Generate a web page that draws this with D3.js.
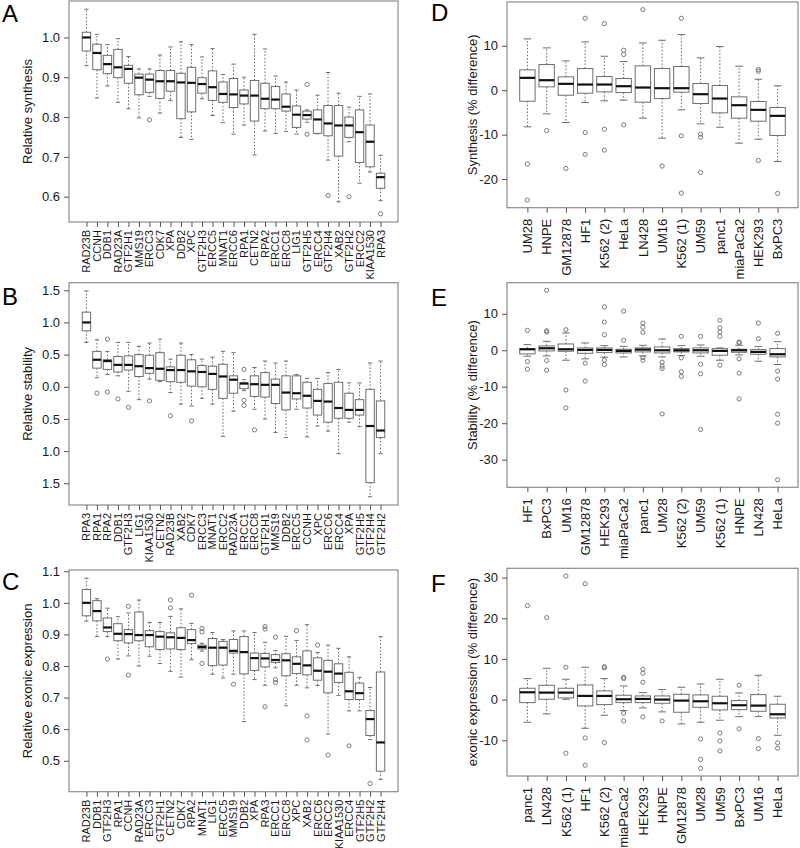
<!DOCTYPE html>
<html>
<head>
<meta charset="utf-8">
<script src="https://cdn.jsdelivr.net/npm/d3@7"></script>
<style>
  html, body { margin: 0; padding: 0; background: #fff; }
  svg { display: block; font-family: "Liberation Sans", Arial, Helvetica, sans-serif; }
</style>
</head>
<body>
<svg id="chart" width="800" height="848"></svg>
<script>
// ---------------- Panel A: Relative synthesis ----------------
const aCats = ["RAD23B","CCNH","DDB1","RAD23A","GTF2H1","MMS19","ERCC3","CDK7","XPA","DDB2","XPC","GTF2H3","ERCC5","MNAT1","ERCC6","RPA1","CETN2","RPA2","ERCC1","ERCC8","LIG1","GTF2H5","ERCC4","GTF2H4","XAB2","GTF2H2","ERCC2","KIAA1530","RPA3"];
const aHigh = [1.071,1.008,0.982,0.997,0.952,0.921,0.921,0.956,0.976,0.989,0.982,0.951,0.972,0.907,0.933,0.900,1.008,0.971,0.903,0.888,0.868,0.818,0.855,0.912,0.860,0.825,0.852,0.858,0.704];
const aQ3   = [1.013,0.983,0.955,0.970,0.930,0.908,0.908,0.917,0.917,0.910,0.925,0.899,0.916,0.888,0.897,0.868,0.892,0.885,0.877,0.858,0.828,0.815,0.818,0.829,0.829,0.800,0.818,0.780,0.659];
const aMed  = [1.000,0.961,0.933,0.925,0.921,0.899,0.894,0.890,0.890,0.887,0.886,0.883,0.875,0.858,0.857,0.854,0.854,0.846,0.844,0.826,0.806,0.805,0.794,0.784,0.779,0.779,0.762,0.738,0.649];
const aQ1   = [0.966,0.919,0.909,0.899,0.885,0.856,0.862,0.847,0.865,0.796,0.813,0.860,0.842,0.837,0.824,0.833,0.790,0.821,0.821,0.815,0.774,0.795,0.759,0.753,0.702,0.749,0.686,0.675,0.621];
const aLow  = [0.929,0.848,0.878,0.837,0.821,0.798,0.852,0.810,0.842,0.749,0.744,0.846,0.804,0.786,0.757,0.780,0.705,0.765,0.759,0.764,0.757,0.787,0.758,0.692,0.587,0.738,0.634,0.662,0.590];
const aOut  = [[],[],[],[],[],[],[0.793],[],[],[],[],[],[],[],[],[],[],[],[],[],[],[0.882,0.757],[],[0.603],[],[0.600],[],[],[0.557]];
const aTicks = [0.6,0.7,0.8,0.9,1.0];

// ---------------- Panel B: Relative stability ----------------
const bCats = ["RPA3","RPA1","RPA2","DDB1","GTF2H3","LIG1","KIAA1530","CETN2","RAD23B","XAB2","CDK7","ERCC3","MNAT1","ERCC2","RAD23A","ERCC1","ERCC8","GTF2H1","MMS19","DDB2","ERCC5","CCNH","XPC","ERCC6","ERCC4","XPA","GTF2H5","GTF2H4","GTF2H2"];
const bHigh = [1.49,0.73,0.55,0.69,0.69,0.63,0.68,0.74,0.43,0.68,0.50,0.43,0.46,0.55,0.53,0.11,0.30,0.40,0.37,0.40,0.19,0.13,0.13,0.22,0.27,0.06,0.06,0.37,0.40];
const bQ3   = [1.16,0.55,0.42,0.47,0.48,0.50,0.49,0.53,0.31,0.49,0.42,0.33,0.32,0.35,0.17,0.06,0.17,0.22,0.12,0.17,0.17,0.07,-0.04,0.05,0.07,-0.10,-0.20,-0.04,-0.22];
const bMed  = [1.00,0.42,0.40,0.34,0.34,0.32,0.29,0.28,0.26,0.26,0.24,0.23,0.20,0.16,0.11,0.05,0.04,0.03,0.03,-0.09,-0.10,-0.14,-0.22,-0.23,-0.33,-0.36,-0.36,-0.61,-0.68];
const bQ1   = [0.87,0.29,0.27,0.23,0.26,0.16,0.21,0.10,0.08,0.07,0.01,0.00,-0.04,-0.18,-0.10,-0.03,-0.15,-0.16,-0.26,-0.36,-0.19,-0.33,-0.44,-0.55,-0.49,-0.49,-0.44,-1.49,-0.79];
const bLow  = [0.69,0.14,0.19,0.17,-0.07,-0.20,0.12,0.08,-0.09,-0.27,-0.30,-0.18,-0.27,-0.77,-0.38,-0.06,-0.35,-0.50,-0.71,-0.79,-0.35,-0.78,-0.61,-0.69,-1.04,-0.55,-0.62,-1.71,-1.04];
const bOut  = [[],[-0.10],[0.74,-0.08],[-0.19],[-0.32],[],[-0.22],[],[-0.45],[],[-0.53],[],[],[],[],[0.27,-0.21,-0.29],[-0.67],[],[],[],[],[],[],[],[],[],[],[],[]];
const bTicks = [-1.5,-1.0,-0.5,0.0,0.5,1.0,1.5];

// ---------------- Panel C: Relative exonic expression ----------------
const cCats = ["RAD23B","DDB1","GTF2H3","RPA1","CCNH","RAD23A","ERCC3","GTF2H1","CETN2","CDK7","RPA2","MNAT1","LIG1","ERCC5","MMS19","DDB2","XPA","RPA3","ERCC1","ERCC8","XPC","XAB2","ERCC6","ERCC2","KIAA1530","ERCC4","GTF2H5","GTF2H2","GTF2H4"];
const cHigh = [1.078,1.013,0.983,0.956,0.968,1.009,0.938,0.938,0.957,0.981,0.935,0.872,0.906,0.884,0.911,0.911,0.906,0.875,0.849,0.894,0.881,0.931,0.843,0.866,0.856,0.829,0.764,0.732,0.893];
const cQ3   = [1.042,1.007,0.952,0.934,0.915,0.971,0.912,0.909,0.905,0.921,0.915,0.866,0.887,0.878,0.884,0.893,0.841,0.840,0.836,0.839,0.829,0.848,0.826,0.818,0.807,0.780,0.746,0.659,0.781];
const cMed  = [1.000,0.974,0.922,0.902,0.901,0.898,0.898,0.893,0.891,0.889,0.882,0.860,0.858,0.858,0.848,0.844,0.825,0.824,0.819,0.818,0.807,0.802,0.785,0.782,0.776,0.720,0.714,0.632,0.558];
const cQ1   = [0.959,0.943,0.909,0.880,0.873,0.880,0.861,0.852,0.854,0.852,0.871,0.854,0.801,0.803,0.841,0.775,0.786,0.797,0.811,0.769,0.776,0.772,0.755,0.715,0.748,0.694,0.694,0.580,0.467];
const cLow  = [0.942,0.893,0.893,0.822,0.832,0.800,0.831,0.808,0.783,0.765,0.820,0.847,0.774,0.762,0.774,0.624,0.757,0.739,0.794,0.674,0.739,0.731,0.738,0.585,0.707,0.658,0.658,0.567,0.441];
const cOut  = [[],[],[0.822],[],[0.989,0.771],[],[],[],[1.009,0.984],[],[1.024],[0.919,0.908,0.808],[],[],[0.742],[],[],[0.925,0.917,0.671],[0.891,0.757,0.748],[],[0.912],[0.642,0.566],[0.866],[0.518],[],[0.547],[],[0.428],[]];
const cTicks = [0.5,0.6,0.7,0.8,0.9,1.0,1.1];

// ---------------- Panel D: Synthesis (% difference) ----------------
const dCats = ["UM28","HNPE","GM12878","HF1","K562 (2)","HeLa","LN428","UM16","K562 (1)","UM59","panc1","miaPaCa2","HEK293","BxPC3"];
const dHigh = [11.55,9.53,6.6,10.88,7.65,6.45,10.65,11.25,12.53,7.28,9.83,5.4,2.48,0.98];
const dQ3   = [4.58,5.78,3.0,4.88,3.08,2.63,5.48,4.88,5.33,1.5,1.05,-1.5,-2.55,-3.9];
const dMed  = [2.78,2.25,1.43,1.28,1.28,0.9,0.6,0.45,0.45,-0.9,-1.88,-3.38,-4.43,-5.78];
const dQ1   = [-2.48,0.75,-1.13,-0.68,-0.38,-0.53,-2.7,-1.88,-0.45,-3.0,-5.1,-6.3,-6.98,-10.2];
const dLow  = [-8.25,-5.33,-7.28,-2.78,-2.4,-2.25,-6.3,-10.8,-4.43,-7.58,-8.33,-11.93,-11.03,-16.05];
const dOut  = [[-16.65,-24.75],[-9.08],[-17.63],[16.2,-9.53,-14.48],[15.0,-8.78,-13.5],[9.0,8.03,-7.8],[18.15],[-17.1],[16.2,-10.28,-23.18],[-9.9,-10.58,-18.53],[],[],[4.65,4.28,-15.83],[-23.25]];
const dTicks = [-20,-10,0,10];

// ---------------- Panel E: Stability (% difference) ----------------
const eCats = ["HF1","BxPC3","UM16","GM12878","HEK293","miaPaCa2","panc1","UM28","K562 (2)","UM59","K562 (1)","HNPE","LN428","HeLa"];
const eHigh = [1.55,2.45,4.73,2.0,1.27,1.09,1.36,3.09,1.27,1.45,0.64,1.36,1.0,2.36];
const eQ3   = [0.45,1.18,1.73,0.64,0.64,0.27,0.64,0.91,0.45,0.64,0.45,0.27,0.18,0.45];
const eMed  = [0.27,0.55,0.27,0.09,0.09,-0.18,0.18,0.0,0.0,0.0,-0.18,0.0,-0.45,-1.09];
const eQ1   = [-1.0,-0.18,-0.27,-0.82,-0.64,-0.73,-0.45,-0.73,-0.45,-0.73,-1.36,-0.55,-1.09,-1.82];
const eLow  = [-1.64,-1.55,-2.73,-2.36,-1.9,-1.82,-1.55,-1.82,-1.45,-1.64,-2.73,-1.27,-3.0,-3.9];
const eOut  = [[5.45,-3.1,-5.2],[16.45,5.36,5.0,-2.82,-5.45],[5.64,-10.9,-15.8],[-3.55,-8.45],[11.9,7.73,4.27,-2.73,-3.9],[10.73,2.73],[7.45,6.36,4.9,-2.0,-2.73],[-3.27,-4.36,-5.0,-17.45],[3.82,-2.09,-5.9,-7.18],[3.82,-3.82,-6.45,-21.73],[8.18,6.18,5.0,3.82,-4.1],[2.27,2.0,-2.36,-6.27,-13.36],[7.45,3.18],[4.64,-5.73,-7.9,-17.55,-20.0,-35.5]];
const eTicks = [-30,-20,-10,0,10];

// ---------------- Panel F: exonic expression (% difference) ----------------
const fCats = ["panc1","LN428","K562 (1)","HF1","K562 (2)","miaPaCa2","HEK293","HNPE","GM12878","UM28","UM59","BxPC3","UM16","HeLa"];
const fHigh = [5.16,7.7,5.0,7.95,5.16,3.36,1.72,2.46,3.03,3.85,5.0,1.64,5.98,0.82];
const fQ3   = [2.79,3.52,2.79,3.6,2.13,1.07,0.9,0.9,1.31,1.15,0.82,-0.25,1.23,-1.15];
const fMed  = [1.8,1.72,1.72,0.9,0.9,0.08,0.16,0.0,-0.25,-0.41,-0.9,-1.39,-1.48,-3.61];
const fQ1   = [-0.74,0.08,0.41,-1.56,-1.23,-0.74,-0.74,-0.9,-3.11,-1.89,-2.54,-2.46,-2.87,-4.51];
const fLow  = [-5.57,-3.52,0.08,-7.05,-3.85,-2.7,-2.05,-3.03,-5.98,-5.57,-5.08,-4.18,-4.18,-8.77];
const fOut  = [[23.1],[20.16],[30.4,7.95,-13.2],[28.5,-9.43,-16.15],[8.11,7.79,-10.57],[5.49,5.16,-3.36,-5.25],[7.46,6.48,4.26,-4.26],[-5.25],[],[-9.67,-14.7,-16.9],[-8.2,-10.16,-12.62],[3.52,-7.21],[-9.59,-12.05],[-10.66,-11.97]];
const fTicks = [-10,0,10,20,30];

// ---------------- drawing ----------------
const svg = d3.select("#chart");
const TEXT = "#1a1a1a";
const BOXC = "#6e6e6e";
const FRAME = "#8c8c8c";

function drawPanel(p) {
  const n = p.cats.length;
  const x = d3.scalePoint().domain(p.cats).range([p.left, p.right]).padding(0.5 + 0.04 * n);
  const allVals = [].concat(p.low, p.high, ...p.out);
  const mn = d3.min(allVals), mx = d3.max(allVals);
  const pad = (mx - mn) * 0.04;
  const y = d3.scaleLinear().domain([mn - pad, mx + pad]).range([p.bottom, p.top]);
  const step = x.step();
  const bw = 0.8 * step, sw = 0.4 * step;
  const g = svg.append("g");

  // frame
  g.append("rect").attr("x", p.left).attr("y", p.top)
    .attr("width", p.right - p.left).attr("height", p.bottom - p.top)
    .attr("fill", "none").attr("stroke", FRAME).attr("stroke-width", 1.2);

  // y axis
  const yAxis = d3.axisLeft(y).tickValues(p.ticks).tickSize(5).tickPadding(4).tickFormat(p.fmt);
  const ya = g.append("g").attr("transform", `translate(${p.left},0)`).call(yAxis);
  ya.select(".domain").remove();
  ya.selectAll(".tick line").attr("stroke", "#555");
  ya.selectAll(".tick text").attr("fill", TEXT).style("font-size", p.tickFont + "px")
    .style("font-family", '"Liberation Sans", Arial, sans-serif');

  // x axis
  const xAxis = d3.axisBottom(x).tickSize(5).tickFormat("");
  const xa = g.append("g").attr("transform", `translate(0,${p.bottom})`).call(xAxis);
  xa.select(".domain").remove();
  xa.selectAll(".tick line").attr("stroke", "#555");
  g.selectAll("text.cat").data(p.cats).enter().append("text")
    .attr("class", "cat")
    .attr("transform", d => `translate(${x(d)},${p.bottom + p.catGap}) rotate(-90)`)
    .attr("text-anchor", "end").attr("dy", "0.36em")
    .attr("fill", TEXT).style("font-size", p.catFont + "px")
    .text(d => d);

  // boxes
  const rows = p.cats.map((c, i) => ({c, lo: p.low[i], q1: p.q1[i], md: p.med[i], q3: p.q3[i], hi: p.high[i], out: p.out[i]}));
  const b = g.selectAll("g.box").data(rows).enter().append("g").attr("class", "box");
  // whiskers (dashed)
  b.append("line").attr("x1", d => x(d.c)).attr("x2", d => x(d.c))
    .attr("y1", d => y(d.q3)).attr("y2", d => y(d.hi))
    .attr("stroke", BOXC).attr("stroke-dasharray", "1.6,1.8").attr("stroke-width", 1);
  b.append("line").attr("x1", d => x(d.c)).attr("x2", d => x(d.c))
    .attr("y1", d => y(d.q1)).attr("y2", d => y(d.lo))
    .attr("stroke", BOXC).attr("stroke-dasharray", "1.6,1.8").attr("stroke-width", 1);
  // staples
  b.append("line").attr("x1", d => x(d.c) - sw / 2).attr("x2", d => x(d.c) + sw / 2)
    .attr("y1", d => y(d.hi)).attr("y2", d => y(d.hi)).attr("stroke", BOXC);
  b.append("line").attr("x1", d => x(d.c) - sw / 2).attr("x2", d => x(d.c) + sw / 2)
    .attr("y1", d => y(d.lo)).attr("y2", d => y(d.lo)).attr("stroke", BOXC);
  // box
  b.append("rect").attr("x", d => x(d.c) - bw / 2).attr("width", bw)
    .attr("y", d => y(d.q3)).attr("height", d => Math.max(0.5, y(d.q1) - y(d.q3)))
    .attr("fill", "#fff").attr("stroke", BOXC).attr("stroke-width", 1);
  // median
  b.append("line").attr("x1", d => x(d.c) - bw / 2).attr("x2", d => x(d.c) + bw / 2)
    .attr("y1", d => y(d.md)).attr("y2", d => y(d.md))
    .attr("stroke", "#111").attr("stroke-width", 2.2);
  // outliers
  b.each(function(d) {
    d3.select(this).selectAll("circle").data(d.out).enter().append("circle")
      .attr("cx", x(d.c)).attr("cy", v => y(v)).attr("r", 2.1)
      .attr("fill", "none").attr("stroke", BOXC).attr("stroke-width", 0.9);
  });

  // y title
  svg.append("text")
    .attr("transform", `translate(${p.titleX},${(p.top + p.bottom) / 2}) rotate(-90)`)
    .attr("text-anchor", "middle").attr("fill", TEXT).style("font-size", "13px")
    .text(p.title);
  // panel letter
  svg.append("text").attr("x", p.letterX).attr("y", p.letterY)
    .attr("fill", "#000").style("font-size", "24px").text(p.letter);
}

const f1 = d3.format(".1f");
const fInt = d => String(d);

drawPanel({cats: aCats, low: aLow, q1: aQ1, med: aMed, q3: aQ3, high: aHigh, out: aOut,
  left: 69, right: 398, top: 1, bottom: 222, ticks: aTicks, fmt: f1,
  tickFont: 13, catFont: 11, catGap: 8, title: "Relative synthesis", titleX: 32,
  letter: "A", letterX: 2, letterY: 22});
drawPanel({cats: bCats, low: bLow, q1: bQ1, med: bMed, q3: bQ3, high: bHigh, out: bOut,
  left: 69, right: 398, top: 282.7, bottom: 505, ticks: bTicks, fmt: d => f1(Math.abs(d)),
  tickFont: 13, catFont: 11, catGap: 8, title: "Relative stability", titleX: 32,
  letter: "B", letterX: 2, letterY: 305});
drawPanel({cats: cCats, low: cLow, q1: cQ1, med: cMed, q3: cQ3, high: cHigh, out: cOut,
  left: 69, right: 398, top: 570, bottom: 791.7, ticks: cTicks, fmt: f1,
  tickFont: 13, catFont: 11, catGap: 8, title: "Relative exonic expression", titleX: 32,
  letter: "C", letterX: 2, letterY: 590});
drawPanel({cats: dCats, low: dLow, q1: dQ1, med: dMed, q3: dQ3, high: dHigh, out: dOut,
  left: 507, right: 798, top: 2, bottom: 207.7, ticks: dTicks, fmt: fInt,
  tickFont: 13, catFont: 13, catGap: 11, title: "Synthesis (% difference)", titleX: 477,
  letter: "D", letterX: 431, letterY: 21});
drawPanel({cats: eCats, low: eLow, q1: eQ1, med: eMed, q3: eQ3, high: eHigh, out: eOut,
  left: 507, right: 798, top: 282.7, bottom: 487.3, ticks: eTicks, fmt: fInt,
  tickFont: 13, catFont: 13, catGap: 11, title: "Stability (% difference)", titleX: 477,
  letter: "E", letterX: 431, letterY: 306});
drawPanel({cats: fCats, low: fLow, q1: fQ1, med: fMed, q3: fQ3, high: fHigh, out: fOut,
  left: 507, right: 798, top: 568.3, bottom: 776, ticks: fTicks, fmt: fInt,
  tickFont: 13, catFont: 13, catGap: 11, title: "exonic expression (% difference)", titleX: 477,
  letter: "F", letterX: 431, letterY: 592});
</script>
</body>
</html>
